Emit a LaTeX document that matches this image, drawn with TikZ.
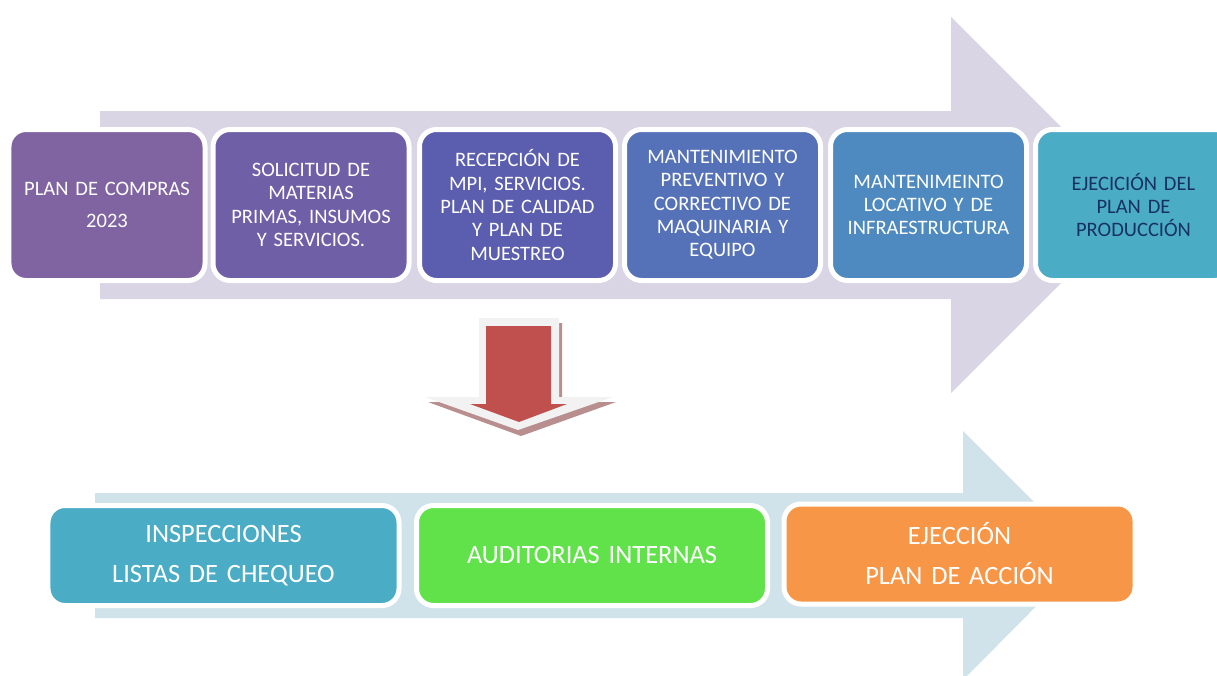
\documentclass[tikz,border=0pt]{standalone}
\usepackage{fontspec}
\setmainfont{Carlito}
\usepackage{tikz}

\definecolor{topband}{RGB}{217,213,228}
\definecolor{lowband}{RGB}{209,227,234}
\definecolor{pasoA}{RGB}{128,100,162}
\definecolor{pasoB}{RGB}{111,95,167}
\definecolor{pasoC}{RGB}{91,93,174}
\definecolor{pasoD}{RGB}{85,114,184}
\definecolor{pasoE}{RGB}{78,138,191}
\definecolor{pasoF}{RGB}{75,172,198}
\definecolor{navytext}{RGB}{23,50,95}
\definecolor{verde}{RGB}{98,226,74}
\definecolor{naranja}{RGB}{247,150,70}
\definecolor{flechared}{RGB}{192,80,77}
\definecolor{flechagray}{RGB}{242,242,242}
\definecolor{flechashadow}{RGB}{184,142,142}

\tikzset{
  paso/.style={draw=white, line width=1.25mm, rounded corners=4.25mm, inner sep=0pt,
    minimum width=49mm, minimum height=37.75mm, text width=46mm, align=center,
    text=white, font=\fontsize{14.6}{16.6}\selectfont},
  control/.style={draw=white, line width=1.25mm, rounded corners=4.25mm, inner sep=0pt,
    minimum width=87.75mm, minimum height=25mm, text width=84mm, align=center,
    text=white, font=\fontsize{18.8}{28.4}\selectfont}
}

\begin{document}
\begin{tikzpicture}[x=0.25mm, y=-0.25mm]

\useasboundingbox (0,0) rectangle (1217,675);
\clip (0,0) rectangle (1217,675);

% big arrows behind
\fill[topband] (100,111) -- (951,111) -- (951,17) -- (1139,205) -- (951,393) -- (951,299) -- (100,299) -- cycle;
\fill[lowband] (95,493) -- (963,493) -- (963,431) -- (1087,555) -- (963,680) -- (963,618) -- (95,618) -- cycle;

% process steps
\node[paso, fill=pasoA] (compras) at (107,205) {PLAN DE COMPRAS\\[6pt] 2023};
\node[paso, fill=pasoB] (solicitud) at (311,205) {SOLICITUD DE\\ MATERIAS\\ PRIMAS, INSUMOS\\ Y SERVICIOS.};
\node[paso, fill=pasoC] (recepcion) at (517.5,205) {RECEPCIÓN DE\\ MPI, SERVICIOS.\\ PLAN DE CALIDAD\\ Y PLAN DE\\ MUESTREO};
\node[paso, fill=pasoD] (mantequipo) at (722.5,205) {MANTENIMIENTO\\ PREVENTIVO Y\\ CORRECTIVO DE\\ MAQUINARIA Y\\ EQUIPO};
\node[paso, fill=pasoE] (mantlocativo) at (928.5,205) {MANTENIMEINTO\\ LOCATIVO Y DE\\ INFRAESTRUCTURA};
\node[paso, fill=pasoF, text=navytext] (ejecucion) at (1133.5,205) {EJECICIÓN DEL\\ PLAN DE\\ PRODUCCIÓN};

% down arrow
\fill[flechashadow] (482,323) -- (562,323) -- (562,402) -- (616,402) -- (521,436) -- (428,402) -- (482,402) -- cycle;
\fill[flechagray] (479,318) -- (559,318) -- (559,397) -- (613,397) -- (518,430) -- (425,397) -- (479,397) -- cycle;
\fill[flechared] (486,326) -- (551,326) -- (551,404) -- (567,404) -- (519,422) -- (470,404) -- (486,404) -- cycle;

% control steps
\node[control, fill=pasoF] (inspecciones) at (223.5,555.5) {INSPECCIONES\\ LISTAS DE CHEQUEO};
\node[control, fill=verde] (auditorias) at (592,555.5) {AUDITORIAS INTERNAS};
\node[control, fill=naranja] (accion) at (959.5,554) {EJECCIÓN\\ PLAN DE ACCIÓN};

\end{tikzpicture}
\end{document}
